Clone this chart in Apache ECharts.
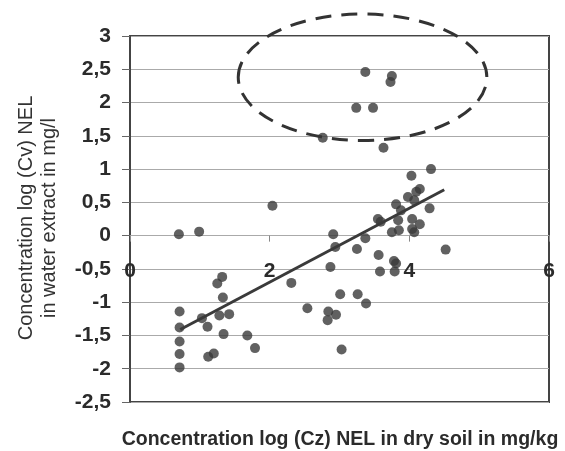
<!DOCTYPE html>
<html>
<head>
<meta charset="utf-8">
<script src="https://cdn.jsdelivr.net/npm/echarts@6/dist/echarts.min.js"></script>
<style>
html,body{margin:0;padding:0;background:#fff;}
#c{width:565px;height:451px;}
</style>
</head>
<body>
<div id="c"></div>
<script>
// log(Cz) NEL in dry soil (x) and log(Cv) NEL in water extract (y)
const soilLog = [
  2.04,0.70,0.99,1.32,1.25,1.33,2.31,0.71,2.54,1.03,1.28,1.42,0.71,1.11,1.34,1.68,1.79,0.71,0.71,0.71,1.12,1.20,
  4.31,4.03,4.15,4.10,3.98,4.07,3.81,4.29,3.88,3.84,3.55,3.59,4.04,4.15,4.04,4.07,3.75,3.85,2.91,3.37,2.94,3.25,
  3.56,3.78,3.81,4.52,2.87,3.58,3.79,3.01,3.26,3.38,2.84,2.95,2.83,3.03,
  3.37,3.75,3.73,3.24,3.48,2.76,3.63
];
const waterLog = [
  0.45,0.02,0.06,-0.62,-0.72,-0.93,-0.71,-1.14,-1.09,-1.24,-1.20,-1.18,-1.38,-1.37,-1.48,-1.50,-1.69,-1.59,-1.78,-1.98,-1.82,-1.77,
  1.00,0.90,0.70,0.66,0.58,0.53,0.47,0.41,0.38,0.23,0.25,0.21,0.25,0.17,0.10,0.05,0.05,0.08,0.02,-0.04,-0.17,-0.20,
  -0.29,-0.38,-0.42,-0.21,-0.47,-0.54,-0.54,-0.88,-0.88,-1.02,-1.14,-1.19,-1.27,-1.71,
  2.46,2.40,2.31,1.92,1.92,1.47,1.32
];
// regression line end points
const trendX = [0.72, 4.50];
const trendY = [-1.41, 0.69];
// dashed outlier ellipse: centre and half-axes in data units
const ellipseCenter = [3.33, 2.38];
const ellipseRadius = [1.78, 0.95];
const xTicks = [0, 2, 4, 6];
const yMin = -2.5, yMax = 3, yStep = 0.5;
const xAxisCrossY = 0; // x axis drawn across the y = 0 line

const points = soilLog.map((x, i) => [x, waterLog[i]]);
const trend = trendX.map((x, i) => [x, trendY[i]]);

const FONT = 'Liberation Sans, Arial, sans-serif';
const GRID = {left: 130, top: 36, width: 419, height: 366};
const chart = echarts.init(document.getElementById('c'), null, {renderer: 'canvas'});

// distance of the y = 0 line above the plot bottom, from the y scale
const crossOffset = -GRID.height * (xAxisCrossY - yMin) / (yMax - yMin);

chart.setOption({
  backgroundColor: '#fff',
  animation: false,
  grid: Object.assign({show: true, outerBoundsMode: 'none', containLabel: false,
         borderColor: '#444', borderWidth: 2, backgroundColor: 'transparent'}, GRID),
  xAxis: {
    type: 'value', min: xTicks[0], max: xTicks[xTicks.length - 1], interval: 2,
    position: 'bottom', offset: crossOffset,
    axisLine: {show: true, onZero: false, lineStyle: {color: '#aaa', width: 1}},
    axisTick: {show: true, length: 6, lineStyle: {color: '#888'}},
    splitLine: {show: false},
    axisLabel: {color: '#2b2b2b', fontWeight: 'bold', fontSize: 21, fontFamily: FONT, margin: 25}
  },
  yAxis: {
    type: 'value', min: yMin, max: yMax, interval: yStep,
    axisLine: {show: true, onZero: false, lineStyle: {color: '#444', width: 2}},
    axisTick: {show: true, length: 8, lineStyle: {color: '#666'}},
    splitLine: {show: true, lineStyle: {color: '#aaa', width: 1}},
    axisLabel: {color: '#2b2b2b', fontWeight: 'bold', fontSize: 21, fontFamily: FONT, margin: 19,
                formatter: v => String(v).replace('.', ',')}
  },
  series: [
    {type: 'scatter', data: points, symbolSize: 10, itemStyle: {color: '#3a3a3a'}, z: 3},
    {type: 'line', data: trend, showSymbol: false, symbol: 'none',
     lineStyle: {color: '#3a3a3a', width: 3}, z: 4}
  ]
});

const c = chart.convertToPixel({gridIndex: 0}, ellipseCenter);
const e = chart.convertToPixel({gridIndex: 0}, [ellipseCenter[0] + ellipseRadius[0], ellipseCenter[1] + ellipseRadius[1]]);
chart.setOption({
  graphic: [
    {type: 'ellipse', shape: {cx: c[0], cy: c[1], rx: Math.abs(e[0] - c[0]), ry: Math.abs(e[1] - c[1])},
     style: {fill: 'none', stroke: '#333', lineWidth: 3, lineDash: [16, 10]}, z: 10},
    {type: 'text', x: 340, y: 440,
     style: {text: 'Concentration log (Cz) NEL in dry soil in mg/kg', fill: '#2b2b2b',
             font: 'bold 19.5px ' + FONT, textAlign: 'center', textVerticalAlign: 'middle'}},
    {type: 'text', x: 38, y: 218, rotation: Math.PI / 2,
     style: {text: 'Concentration log (Cv) NEL\nin water extract in mg/l', fill: '#333',
             font: '20px ' + FONT, lineHeight: 23, textAlign: 'center', textVerticalAlign: 'middle'}}
  ]
});
</script>
</body>
</html>
